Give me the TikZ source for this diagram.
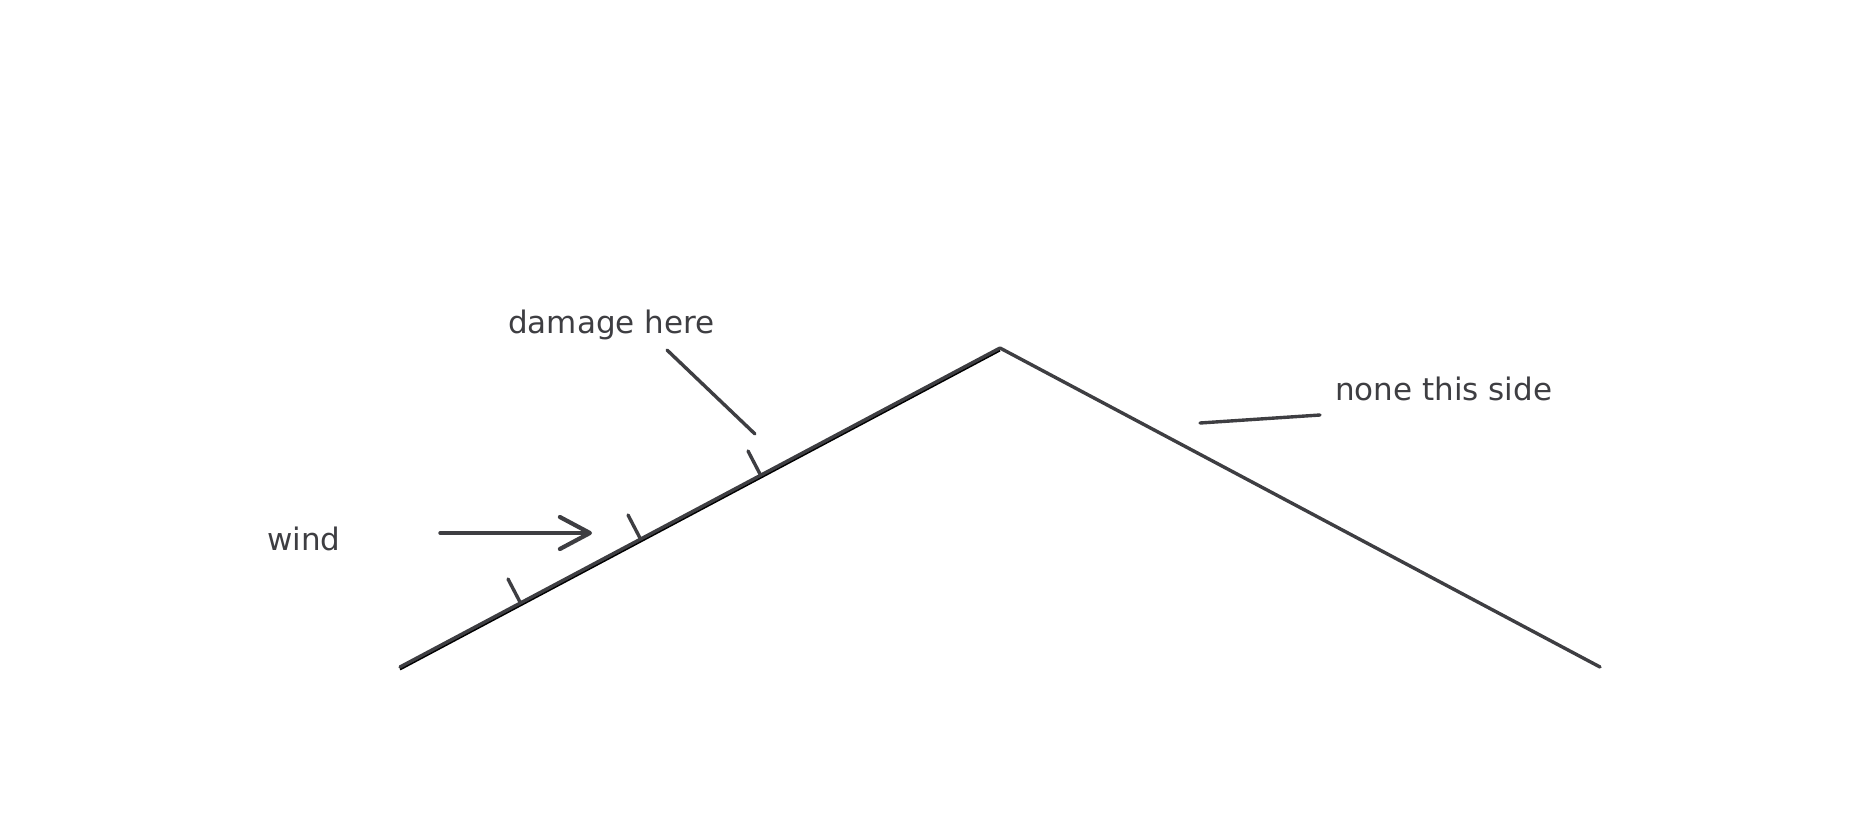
\documentclass[tikz,border=0pt]{standalone}
\usepackage{fontspec}
\setmainfont{DejaVu Sans}
\usetikzlibrary{arrows.meta}
\definecolor{ink}{RGB}{62,62,66}
\definecolor{shade}{RGB}{205,205,205}
\tikzset{
  stroke/.style={draw=ink, line width=3.4pt, line cap=round, line join=round},
  label/.style={text=ink, font=\fontsize{31}{37}\selectfont, inner sep=0pt, anchor=base west},
}
\begin{document}
\begin{tikzpicture}[x=1pt,y=-1pt]
\useasboundingbox (0,0) rectangle (1867,827);
% roof points
\coordinate (L) at (400,667);
\coordinate (P) at (1000,348);
\coordinate (R) at (1600,667);
% faint shadow along left slope
\draw[shade, line width=2pt] ([yshift=-2.5pt]L) -- ([yshift=-2.5pt]P);
\draw[stroke] (L) -- (P) -- (R);
% ticks on left slope
\coordinate (t1b) at (520,602);
\coordinate (t1t) at (508,579);
\coordinate (t2b) at (640,538);
\coordinate (t2t) at (628,515);
\coordinate (t3b) at (760,474);
\coordinate (t3t) at (748,451);
\draw[stroke] (t1b) -- (t1t);
\draw[stroke] (t2b) -- (t2t);
\draw[stroke] (t3b) -- (t3t);
% labels
\node[label] (dmg) at (508,333) {damage here};
\node[label] (wind) at (267,550) {wind};
\node[label] (none) at (1335,400) {none this side};
% leader lines
\coordinate (d1) at (667,350);
\coordinate (d2) at (755,434);
\draw[stroke] (d1) -- (d2);
\coordinate (n1) at (1200,423);
\coordinate (n2) at (1320,415);
\draw[stroke] (n1) -- (n2);
% wind arrow
\coordinate (a1) at (440,533);
\coordinate (a2) at (592,533);
\draw[stroke, -{Straight Barb[round, length=30pt, width=32pt, line width=4.2pt]}] (a1) -- (a2);
\end{tikzpicture}
\end{document}
